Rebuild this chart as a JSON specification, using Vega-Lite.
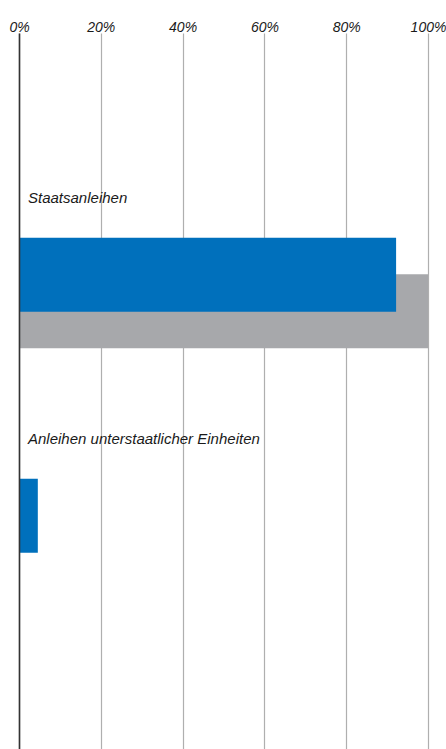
{
  "$schema": "https://vega.github.io/schema/vega-lite/v6.json",
  "width": 409,
  "height": 716,
  "autosize": "none",
  "padding": {"left": 19, "top": 33, "right": 18, "bottom": 0},
  "background": "white",
  "config": {"view": {"stroke": null}, "font": "Liberation Sans"},
  "data": {
    "values": [
      {"kategorie": "Staatsanleihen", "serie": "Serie 2", "anteil": 1.0},
      {"kategorie": "Anleihen unterstaatlicher Einheiten", "serie": "Serie 2", "anteil": 0},
      {"kategorie": "Staatsanleihen", "serie": "Serie 1", "anteil": 0.922},
      {"kategorie": "Anleihen unterstaatlicher Einheiten", "serie": "Serie 1", "anteil": 0.046}
    ]
  },
  "encoding": {
    "y": {
      "field": "kategorie",
      "type": "nominal",
      "scale": {
        "domain": ["Staatsanleihen", "Anleihen unterstaatlicher Einheiten"],
        "paddingInner": 0.394,
        "paddingOuter": 0.6825,
        "align": 0.5684
      },
      "axis": {
        "title": null,
        "labels": false,
        "ticks": false,
        "grid": false,
        "domain": true,
        "domainColor": "#333333",
        "domainWidth": 1.6,
        "zindex": 1
      }
    }
  },
  "layer": [
    {
      "mark": {"type": "bar", "size": 74},
      "encoding": {
        "x": {
          "field": "anteil",
          "type": "quantitative",
          "scale": {"domain": [0, 1], "nice": false},
          "axis": {
            "orient": "top",
            "values": [0, 0.2, 0.4, 0.6, 0.8, 1],
            "format": ".0%",
            "title": null,
            "ticks": false,
            "domain": false,
            "labelPadding": 2,
            "labelBaseline": "alphabetic",
            "labelFontSize": 14,
            "labelFont": "Liberation Sans",
            "labelFontStyle": "italic",
            "labelColor": "#1a1a1a",
            "labelFlush": false,
            "gridColor": "#AFAFAF",
            "gridWidth": 1.2
          }
        },
        "yOffset": {
          "field": "serie",
          "type": "nominal",
          "scale": {"domain": ["Serie 1", "Serie 2"], "paddingInner": 0, "paddingOuter": 1}
        },
        "color": {
          "field": "serie",
          "type": "nominal",
          "scale": {"domain": ["Serie 1", "Serie 2"], "range": ["#0070BC", "#A7A8AB"]},
          "legend": null
        }
      }
    },
    {
      "transform": [{"filter": "datum.serie === 'Serie 1'"}],
      "mark": {
        "type": "text",
        "align": "left",
        "baseline": "alphabetic",
        "dx": 9,
        "dy": -90,
        "font": "Liberation Sans",
        "fontStyle": "italic",
        "fontSize": 15,
        "color": "#1a1a1a"
      },
      "encoding": {
        "x": {"datum": 0, "type": "quantitative"},
        "text": {"field": "kategorie"}
      }
    }
  ]
}
